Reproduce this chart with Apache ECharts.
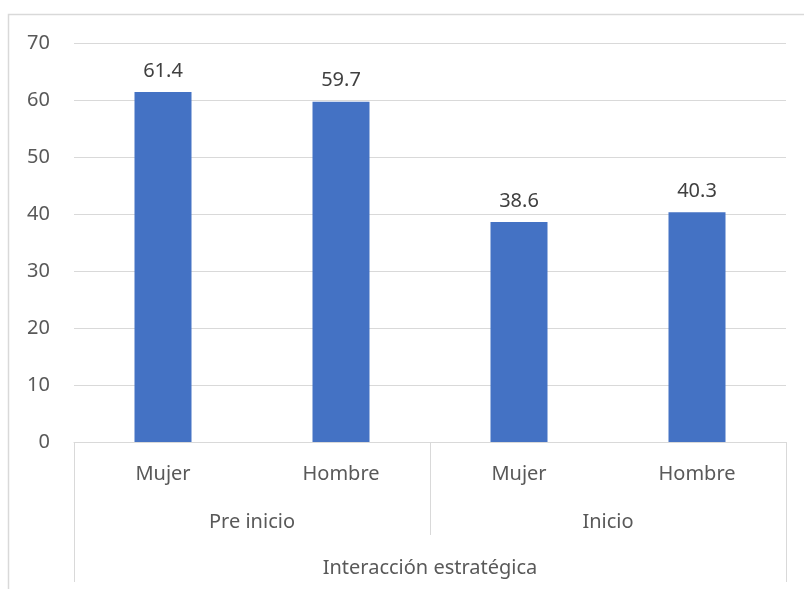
<!DOCTYPE html>
<html>
<head>
<meta charset="utf-8">
<script src="https://cdn.jsdelivr.net/npm/echarts@6/dist/echarts.min.js"></script>
<style>
  html, body { margin: 0; padding: 0; background: #fff; }
  #chart { width: 804px; height: 589px; }
</style>
</head>
<body>
<div id="chart"></div>
<script>
const categories = ['Mujer', 'Hombre', 'Mujer', 'Hombre']
const groups = ['Pre inicio', 'Inicio']
const topGroup = ['Interacción estratégica']
const values = [61.4, 59.7, 38.6, 40.3]
const yTicks = { min: 0, max: 70, interval: 10 }

const font = 'Noto Sans'
const textColor = '#595959'
const lineColor = '#d9d9d9'

const chart = echarts.init(document.getElementById('chart'))

chart.setOption({
  animation: false,
  textStyle: { fontFamily: font },
  graphic: [
    {
      type: 'rect',
      shape: { x: 8.5, y: 14.5, width: 900, height: 700 },
      style: { fill: 'none', stroke: lineColor, lineWidth: 1.5 },
      silent: true,
    },
  ],
  grid: { left: 74, right: 18, top: 43, bottom: 147 },
  xAxis: [
    {
      type: 'category',
      data: categories,
      position: 'bottom',
      axisLine: { show: true, lineStyle: { color: lineColor, width: 1 } },
      axisTick: { show: false },
      axisLabel: { color: textColor, fontSize: 20, margin: 22 },
    },
    {
      type: 'category',
      data: groups,
      position: 'bottom',
      axisLine: { show: false },
      axisTick: { show: true, length: 93, lineStyle: { color: lineColor } },
      axisLabel: { color: textColor, fontSize: 20, margin: 70 },
    },
    {
      type: 'category',
      data: topGroup,
      position: 'bottom',
      axisLine: { show: false },
      axisTick: { show: true, length: 140, lineStyle: { color: lineColor } },
      axisLabel: { color: textColor, fontSize: 20, margin: 116 },
    },
  ],
  yAxis: {
    type: 'value',
    min: yTicks.min,
    max: yTicks.max,
    interval: yTicks.interval,
    axisLine: { show: false },
    axisTick: { show: false },
    splitLine: { lineStyle: { color: lineColor, width: 1 } },
    axisLabel: { color: textColor, fontSize: 20, margin: 24 },
  },
  series: [
    {
      type: 'bar',
      xAxisIndex: 0,
      data: values,
      barWidth: 57,
      itemStyle: { color: '#4472C4' },
      label: {
        show: true,
        position: 'top',
        distance: 11,
        color: '#404040',
        fontSize: 20,
        formatter: (p) => p.value.toFixed(1),
      },
    },
  ],
})
</script>
</body>
</html>
